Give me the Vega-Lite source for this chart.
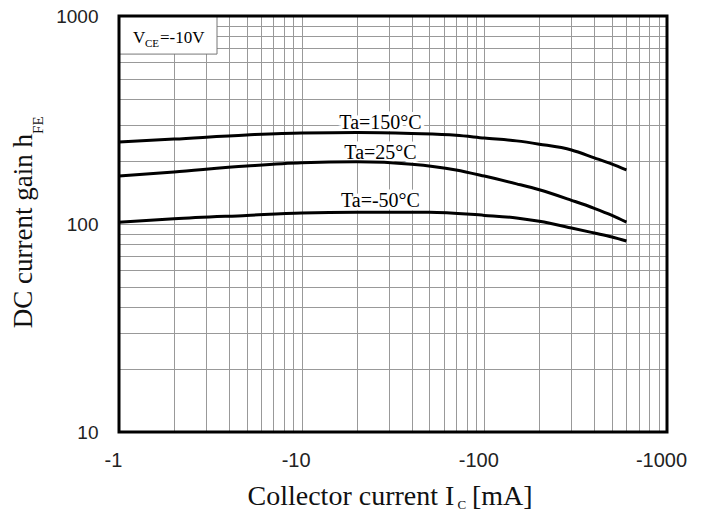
{
  "$schema": "https://vega.github.io/schema/vega-lite/v6.json",
  "width": 548,
  "height": 416,
  "autosize": {"type": "none"},
  "padding": {"left": 119, "top": 16, "right": 40, "bottom": 87},
  "background": "white",
  "config": {"view": {"stroke": null}},
  "datasets": {
    "curves": [
      {"T": "150", "I": 1, "h": 248}, {"T": "150", "I": 2, "h": 256}, {"T": "150", "I": 5, "h": 268},
      {"T": "150", "I": 10, "h": 274}, {"T": "150", "I": 20, "h": 275}, {"T": "150", "I": 40, "h": 272},
      {"T": "150", "I": 70, "h": 267}, {"T": "150", "I": 100, "h": 259}, {"T": "150", "I": 150, "h": 251},
      {"T": "150", "I": 200, "h": 242}, {"T": "150", "I": 300, "h": 227}, {"T": "150", "I": 400, "h": 208},
      {"T": "150", "I": 500, "h": 194}, {"T": "150", "I": 600, "h": 182},
      {"T": "25", "I": 1, "h": 170}, {"T": "25", "I": 2, "h": 178}, {"T": "25", "I": 5, "h": 190},
      {"T": "25", "I": 10, "h": 197}, {"T": "25", "I": 20, "h": 199}, {"T": "25", "I": 40, "h": 194},
      {"T": "25", "I": 70, "h": 182}, {"T": "25", "I": 100, "h": 170}, {"T": "25", "I": 150, "h": 156},
      {"T": "25", "I": 200, "h": 146}, {"T": "25", "I": 300, "h": 130}, {"T": "25", "I": 400, "h": 119},
      {"T": "25", "I": 500, "h": 110}, {"T": "25", "I": 600, "h": 102},
      {"T": "-50", "I": 1, "h": 102}, {"T": "-50", "I": 2, "h": 106}, {"T": "-50", "I": 5, "h": 110},
      {"T": "-50", "I": 10, "h": 113}, {"T": "-50", "I": 20, "h": 114}, {"T": "-50", "I": 50, "h": 114},
      {"T": "-50", "I": 100, "h": 110}, {"T": "-50", "I": 150, "h": 107}, {"T": "-50", "I": 200, "h": 103},
      {"T": "-50", "I": 300, "h": 95.7}, {"T": "-50", "I": 400, "h": 90.5}, {"T": "-50", "I": 500, "h": 86.6},
      {"T": "-50", "I": 600, "h": 82.8}
    ],
    "labels": [
      {"label": "Ta=150°C", "I": 27, "h": 286},
      {"label": "Ta=25°C", "I": 27, "h": 205},
      {"label": "Ta=-50°C", "I": 27, "h": 121}
    ]
  },
  "layer": [
    {
      "data": {"name": "labels"},
      "mark": {"type": "text", "font": "Liberation Serif", "fontSize": 20, "align": "center", "baseline": "alphabetic", "stroke": "white", "strokeWidth": 7, "fill": "white"},
      "encoding": {
        "x": {"field": "I", "type": "quantitative"},
        "y": {"field": "h", "type": "quantitative"},
        "text": {"field": "label"}
      }
    },
    {
      "data": {"name": "curves"},
      "mark": {"type": "line", "stroke": "black", "strokeWidth": 3, "interpolate": "monotone"},
      "encoding": {
        "x": {
          "field": "I", "type": "quantitative",
          "scale": {"type": "log", "domain": [1, 1000], "nice": false},
          "axis": {
            "title": null,
            "values": [1,2,3,4,5,6,7,8,9,10,20,30,40,50,60,70,80,90,100,200,300,400,500,600,700,800,900,1000],
            "labelExpr": "indexof([1,10,100,1000], datum.value) >= 0 ? '-' + datum.value : ''",
            "labelOverlap": false,
            "labelBound": false,
            "labelFlush": false,
            "labelFont": "Liberation Sans",
            "labelFontSize": 20,
            "labelColor": "#222",
            "labelBaseline": "top",
            "labelPadding": 18,
            "labelOffset": -6,
            "ticks": false,
            "domain": false,
            "grid": true,
            "gridColor": {"condition": {"test": "datum.value == 1 || datum.value == 1000", "value": "transparent"}, "value": "#999"},
            "gridWidth": 1
          }
        },
        "y": {
          "field": "h", "type": "quantitative",
          "scale": {"type": "log", "domain": [10, 1000], "nice": false},
          "axis": {
            "title": null,
            "values": [10,20,30,40,50,60,70,80,90,100,200,300,400,500,600,700,800,900,1000],
            "labelExpr": "indexof([10,100,1000], datum.value) >= 0 ? '' + datum.value : ''",
            "labelOverlap": false,
            "labelBound": false,
            "labelFlush": false,
            "labelFont": "Liberation Sans",
            "labelFontSize": 19,
            "labelColor": "#222",
            "labelPadding": 21,
            "ticks": false,
            "domain": false,
            "grid": true,
            "gridColor": {"condition": {"test": "datum.value == 10 || datum.value == 1000", "value": "transparent"}, "value": "#999"},
            "gridWidth": 1
          }
        },
        "detail": {"field": "T", "type": "nominal"}
      }
    },
    {
      "data": {"name": "labels"},
      "mark": {"type": "text", "font": "Liberation Serif", "fontSize": 20, "align": "center", "baseline": "alphabetic", "fill": "black"},
      "encoding": {
        "x": {"field": "I", "type": "quantitative"},
        "y": {"field": "h", "type": "quantitative"},
        "text": {"field": "label"}
      }
    },
    {
      "data": {"values": [{}]},
      "mark": {"type": "rect", "fill": "white", "stroke": "#777", "strokeWidth": 1},
      "encoding": {
        "x": {"datum": 1, "type": "quantitative"},
        "x2": {"datum": 3.44},
        "y": {"datum": 1000, "type": "quantitative"},
        "y2": {"datum": 656}
      }
    },
    {
      "data": {"values": [{}]},
      "mark": {"type": "text", "font": "Liberation Serif", "fontSize": 17, "align": "left", "baseline": "alphabetic", "fill": "black", "text": "V"},
      "encoding": {
        "x": {"datum": 1.193, "type": "quantitative"},
        "y": {"datum": 741, "type": "quantitative"}
      }
    },
    {
      "data": {"values": [{}]},
      "mark": {"type": "text", "font": "Liberation Serif", "fontSize": 11, "align": "left", "baseline": "alphabetic", "fill": "black", "text": "CE"},
      "encoding": {
        "x": {"datum": 1.388, "type": "quantitative"},
        "y": {"datum": 709, "type": "quantitative"}
      }
    },
    {
      "data": {"values": [{}]},
      "mark": {"type": "text", "font": "Liberation Serif", "fontSize": 17, "align": "left", "baseline": "alphabetic", "fill": "black", "text": "=-10V"},
      "encoding": {
        "x": {"datum": 1.677, "type": "quantitative"},
        "y": {"datum": 741, "type": "quantitative"}
      }
    },
    {
      "data": {"values": [{}]},
      "mark": {"type": "rect", "fill": null, "fillOpacity": 0, "stroke": "black", "strokeWidth": 3},
      "encoding": {
        "x": {"datum": 1, "type": "quantitative"},
        "x2": {"datum": 1000},
        "y": {"datum": 10, "type": "quantitative"},
        "y2": {"datum": 1000}
      }
    },
    {
      "data": {"values": [{}]},
      "mark": {"type": "text", "font": "Liberation Serif", "fontSize": 27, "align": "right", "baseline": "alphabetic", "angle": 270, "fill": "#111", "text": "DC current gain h"},
      "encoding": {
        "x": {"datum": 0.334, "type": "quantitative"},
        "y": {"datum": 271, "type": "quantitative"}
      }
    },
    {
      "data": {"values": [{}]},
      "mark": {"type": "text", "font": "Liberation Serif", "fontSize": 15, "align": "left", "baseline": "alphabetic", "angle": 270, "fill": "#111", "text": "FE"},
      "encoding": {
        "x": {"datum": 0.384, "type": "quantitative"},
        "y": {"datum": 271, "type": "quantitative"}
      }
    },
    {
      "data": {"values": [{}]},
      "mark": {"type": "text", "font": "Liberation Serif", "fontSize": 28, "align": "right", "baseline": "alphabetic", "fill": "#111", "text": "Collector current I"},
      "encoding": {
        "x": {"datum": 68.5, "type": "quantitative"},
        "y": {"datum": 4.46, "type": "quantitative"}
      }
    },
    {
      "data": {"values": [{}]},
      "mark": {"type": "text", "font": "Liberation Serif", "fontSize": 13, "align": "left", "baseline": "alphabetic", "fill": "#111", "text": "C"},
      "encoding": {
        "x": {"datum": 71.2, "type": "quantitative"},
        "y": {"datum": 4.26, "type": "quantitative"}
      }
    },
    {
      "data": {"values": [{}]},
      "mark": {"type": "text", "font": "Liberation Serif", "fontSize": 28, "align": "left", "baseline": "alphabetic", "fill": "#111", "text": "[mA]"},
      "encoding": {
        "x": {"datum": 85.5, "type": "quantitative"},
        "y": {"datum": 4.46, "type": "quantitative"}
      }
    }
  ]
}
